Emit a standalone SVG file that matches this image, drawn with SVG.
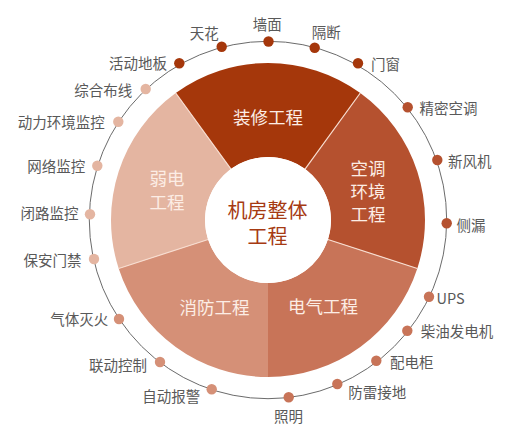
<svg xmlns="http://www.w3.org/2000/svg" width="517" height="428" viewBox="0 0 517 428">
<style>
.seg-label{font-family:"Noto Sans CJK SC","Noto Sans",sans-serif;font-size:17.5px;fill:#FCEDE5;text-anchor:middle;dominant-baseline:central}
.center-label{font-family:"Noto Sans CJK SC","Noto Sans",sans-serif;font-size:20px;fill:#A63A12;text-anchor:middle;dominant-baseline:central}
.item{font-family:"Noto Sans CJK SC","Noto Sans",sans-serif;font-size:14.5px;fill:#595959;text-anchor:middle;dominant-baseline:central}
.sep{stroke:#F7DCCF;stroke-width:1.2}
.cA{fill:#A5370B}.cB{fill:#B5512F}.cC{fill:#C87458}.cD{fill:#D59077}.cE{fill:#E4B5A1}
</style>
<rect width="517" height="428" fill="#FFFFFF"/>
<g id="connectors">
<circle cx="268" cy="220" r="178.7" fill="none" stroke="#6B6B6B" stroke-width="1"/>
</g>
<g id="node-zhuangxiu">
<path class="cA" d="M175.72 92.99 A157 157 0 0 1 360.28 92.99 L305.03 169.03 A63 63 0 0 0 230.97 169.03 Z"/>
<text class="seg-label" x="268" y="116.5">装修工程</text>
</g>
<g id="node-kongtiao">
<path class="cB" d="M360.28 92.99 A157 157 0 0 1 417.32 268.51 L327.92 239.47 A63 63 0 0 0 305.03 169.03 Z"/>
<text class="seg-label" x="368" y="167"><tspan x="368" y="167">空调</tspan><tspan x="368" y="190">环境</tspan><tspan x="368" y="212.5">工程</tspan></text>
</g>
<g id="node-dianqi">
<path class="cC" d="M417.32 268.51 A157 157 0 0 1 268 377 L268 283 A63 63 0 0 0 327.92 239.47 Z"/>
<text class="seg-label" x="323" y="305.5">电气工程</text>
</g>
<g id="node-xiaofang">
<path class="cD" d="M268 377 A157 157 0 0 1 118.68 268.51 L208.08 239.47 A63 63 0 0 0 268 283 Z"/>
<text class="seg-label" x="214.5" y="306">消防工程</text>
</g>
<g id="node-ruodian">
<path class="cE" d="M118.68 268.51 A157 157 0 0 1 175.72 92.99 L230.97 169.03 A63 63 0 0 0 208.08 239.47 Z"/>
<text class="seg-label" x="167" y="177"><tspan x="167" y="177">弱电</tspan><tspan x="167" y="201">工程</tspan></text>
</g>
<g id="separators">
<line class="sep" x1="175.72" y1="92.99" x2="230.97" y2="169.03"/>
<line class="sep" x1="360.28" y1="92.99" x2="305.03" y2="169.03"/>
<line class="sep" x1="417.32" y1="268.51" x2="327.92" y2="239.47"/>
<line class="sep" x1="118.68" y1="268.51" x2="208.08" y2="239.47"/>
</g>
<g id="node-center">
<circle cx="268" cy="220" r="63" fill="#FFFFFF"/>
<text class="center-label" x="267.5" y="209"><tspan x="267.5" y="209">机房整体</tspan><tspan x="267.5" y="235">工程</tspan></text>
</g>
<g id="node-items">
<g id="item-tianhua"><circle class="cA" cx="221.7" cy="46.7" r="5.2"/><text class="item" x="204.2" y="32.3">天花</text></g>
<g id="item-qiangmian"><circle class="cA" cx="268.5" cy="41.5" r="5.2"/><text class="item" x="267.3" y="23">墙面</text></g>
<g id="item-geduan"><circle class="cA" cx="314.7" cy="47.7" r="5.2"/><text class="item" x="326.3" y="31.7">隔断</text></g>
<g id="item-menchuang"><circle class="cA" cx="358" cy="63.3" r="5.2"/><text class="item" x="385.5" y="63.3">门窗</text></g>
<g id="item-huodongdiban"><circle class="cA" cx="179.3" cy="63.3" r="5.2"/><text class="item" x="138" y="62.3">活动地板</text></g>
<g id="item-jingmi"><circle class="cB" cx="407.7" cy="107.3" r="5.2"/><text class="item" x="448.5" y="107.7">精密空调</text></g>
<g id="item-xinfengji"><circle class="cB" cx="437.3" cy="160" r="5.2"/><text class="item" x="469.7" y="160">新风机</text></g>
<g id="item-celou"><circle class="cB" cx="446.7" cy="223.3" r="5.2"/><text class="item" x="471" y="224">侧漏</text></g>
<g id="item-ups"><circle class="cC" cx="429" cy="296.7" r="5.2"/><text class="item" x="450.5" y="297.3">UPS</text></g>
<g id="item-chaiyou"><circle class="cC" cx="407.3" cy="330.7" r="5.2"/><text class="item" x="457" y="330.7">柴油发电机</text></g>
<g id="item-peidiangui"><circle class="cC" cx="376.3" cy="360.7" r="5.2"/><text class="item" x="411.7" y="361">配电柜</text></g>
<g id="item-fanglei"><circle class="cC" cx="337.3" cy="384" r="5.2"/><text class="item" x="377.2" y="391">防雷接地</text></g>
<g id="item-zhaoming"><circle class="cC" cx="288.7" cy="397.3" r="5.2"/><text class="item" x="288.5" y="415.7">照明</text></g>
<g id="item-zidongbaojing"><circle class="cD" cx="211.7" cy="389.3" r="5.2"/><text class="item" x="171.2" y="395.7">自动报警</text></g>
<g id="item-liandong"><circle class="cD" cx="160" cy="362" r="5.2"/><text class="item" x="118" y="364.3">联动控制</text></g>
<g id="item-qitimiehuo"><circle class="cD" cx="119" cy="319" r="5.2"/><text class="item" x="79.2" y="318.3">气体灭火</text></g>
<g id="item-baoan"><circle class="cE" cx="94" cy="259" r="5.2"/><text class="item" x="52.5" y="259.3">保安门禁</text></g>
<g id="item-bilu"><circle class="cE" cx="90" cy="214.3" r="5.2"/><text class="item" x="49.5" y="212.7">闭路监控</text></g>
<g id="item-wangluo"><circle class="cE" cx="97.3" cy="165.7" r="5.2"/><text class="item" x="56.2" y="165.7">网络监控</text></g>
<g id="item-dongli"><circle class="cE" cx="118.3" cy="121.7" r="5.2"/><text class="item" x="61.2" y="121.7">动力环境监控</text></g>
<g id="item-zonghe"><circle class="cE" cx="145.7" cy="89" r="5.2"/><text class="item" x="103.2" y="89">综合布线</text></g>
</g>
</svg>
